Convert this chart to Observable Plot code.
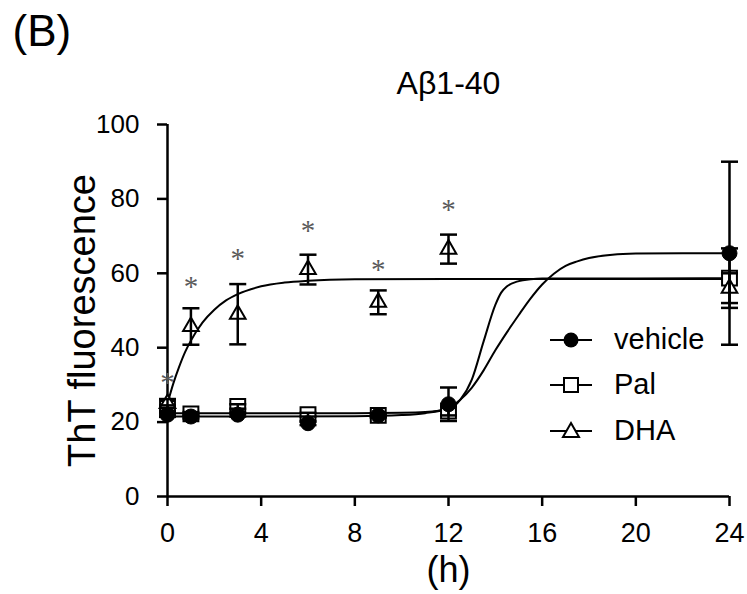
<!DOCTYPE html>
<html>
<head>
<meta charset="utf-8">
<script src="https://cdn.jsdelivr.net/npm/d3@7"></script>
<script src="https://cdn.jsdelivr.net/npm/@observablehq/plot@0.6"></script>
<style>
  html, body { margin: 0; padding: 0; background: #fff; }
  #wrap { position: relative; width: 747px; height: 594px; font-family: "Liberation Sans", Arial, sans-serif; }
  #legend { position: absolute; left: 0; top: 0; pointer-events: none; }
</style>
</head>
<body>
<div id="wrap"></div>
<script>
// ---------- data ----------
const hours = [0, 1, 3, 6, 9, 12, 24];

const vehicleMean = [22, 21.5, 22, 19.7, 21.8, 24.8, 65.4];
const vehicleErr  = [0.6, 0.5, 0.5, 0.5, 0.5, 4.5, 24.6];

const palMean = [23.7, 22.2, 24.2, 22, 21.8, 23, 58.7];
const palErr  = [0.8, 0.5, 0.6, 0.5, 0.5, 1.2, 8];

const dhaMean = [25, 45.7, 49, 61, 52.2, 66.5, 56];
const dhaErr  = [1.2, 4.9, 8.1, 4, 3.2, 3.9, 4];

// significance asterisks (DHA vs vehicle)
const starHours = [0, 1, 3, 6, 9, 12];
const starY     = [31, 56.9, 64.5, 71.9, 61.6, 77.5];

// fitted curves
const dhaFitT = [0, 0.25, 0.5, 0.75, 1, 1.5, 2, 2.5, 3, 4, 5, 6, 8, 12, 16, 20, 24];
const dhaFitV = [25, 30.4, 34.9, 38.8, 41.9, 46.8, 50.2, 52.7, 54.4, 56.5, 57.5, 58, 58.4, 58.5, 58.5, 58.5, 58.5];

const palFitT = [0, 4, 8, 10, 11, 12, 12.5, 13, 13.5, 14, 14.25, 14.5, 15, 15.5, 16, 20, 24];
const palFitV = [22.4, 22.4, 22.4, 22.5, 22.7, 23.5, 26, 31.5, 41.7, 51.5, 54.8, 56.5, 57.9, 58.4, 58.6, 58.6, 58.7];

const vehFitT = [0, 4, 8, 10, 11, 12, 12.5, 13, 13.5, 14, 14.5, 15, 15.5, 16, 16.5, 17, 17.5, 18, 19, 20, 22, 24];
const vehFitV = [21.5, 21.5, 21.6, 21.9, 22.4, 23.8, 26, 29.3, 33.9, 39.3, 44.2, 48.8, 53.2, 57, 59.9, 62, 63.2, 64.1, 65, 65.3, 65.4, 65.4];

const xTicks = [0, 4, 8, 12, 16, 20, 24];
const yTicks = [0, 20, 40, 60, 80, 100];

const seriesNames = ["vehicle", "Pal", "DHA"];
const panelLabel = "(B)";
const chartTitle = "Aβ1-40";
const yTitle = "ThT fluorescence";
const xTitle = "(h)";

// ---------- build tables ----------
const pts = (mean, err, s) => hours.map((t, i) => ({t, v: mean[i], lo: mean[i] - err[i], hi: mean[i] + err[i], s}));
const veh = pts(vehicleMean, vehicleErr, "vehicle");
const pal = pts(palMean, palErr, "Pal");
const dha = pts(dhaMean, dhaErr, "DHA");
const all = [...pal, ...veh, ...dha];
const fit = (T, V) => T.map((t, i) => ({t, v: V[i]}));
const stars = starHours.map((t, i) => ({t, v: starY[i]}));

const capSymbol = {
  draw(ctx, size) { const h = Math.sqrt(size / Math.PI); ctx.moveTo(-h, 0); ctx.lineTo(h, 0); }
};

const font = "'Liberation Sans', Arial, sans-serif";

const chart = Plot.plot({
  width: 747,
  height: 594,
  marginLeft: 167,
  marginRight: 18,
  marginTop: 124,
  marginBottom: 98,
  style: {fontFamily: font, fontSize: "26px", background: "white", color: "black", overflow: "visible"},
  x: {domain: [0, 24], label: null},
  y: {domain: [0, 100], label: null},
  marks: [
    Plot.axisX({ticks: xTicks, tickSize: 10, tickPadding: 16, strokeWidth: 2.5, fontSize: 27, label: null}),
    Plot.axisY({ticks: yTicks, tickSize: 10, tickPadding: 18, strokeWidth: 2.5, fontSize: 26, label: null}),
    Plot.ruleX([0], {strokeWidth: 2.5}),
    Plot.ruleY([0], {strokeWidth: 2.5}),
    // fitted curves
    Plot.line(fit(dhaFitT, dhaFitV), {x: "t", y: "v", curve: "monotone-x", strokeWidth: 2}),
    Plot.line(fit(palFitT, palFitV), {x: "t", y: "v", curve: "monotone-x", strokeWidth: 2}),
    Plot.line(fit(vehFitT, vehFitV), {x: "t", y: "v", curve: "monotone-x", strokeWidth: 2}),
    // markers
    Plot.dot(pal, {x: "t", y: "v", symbol: "square", r: 8.4, fill: "white", stroke: "black", strokeWidth: 2}),
    Plot.dot(veh, {x: "t", y: "v", symbol: "circle", r: 7.5, fill: "black", stroke: "black", strokeWidth: 1}),
    Plot.dot(dha, {x: "t", y: "v", symbol: "triangle", r: 5.8, fill: "white", stroke: "black", strokeWidth: 2}),
    // error bars
    Plot.ruleX(all, {x: "t", y1: "lo", y2: "hi", strokeWidth: 2.5}),
    Plot.dot(all, {x: "t", y: "hi", symbol: capSymbol, r: 8.5, fill: "none", stroke: "black", strokeWidth: 2.5}),
    Plot.dot(all, {x: "t", y: "lo", symbol: capSymbol, r: 8.5, fill: "none", stroke: "black", strokeWidth: 2.5}),
    // asterisks
    Plot.text(stars, {x: "t", y: "v", text: () => "*", fontSize: 29, fontFamily: "'Liberation Serif', 'Times New Roman', serif", fill: "#5a5a5a", dy: 2}),
    // titles
    Plot.text([panelLabel], {text: d => d, frameAnchor: "top-left", lineAnchor: "middle", textAnchor: "start", dx: -155, dy: -93, fontSize: 44}),
    Plot.text([chartTitle], {text: d => d, frameAnchor: "top", lineAnchor: "middle", textAnchor: "middle", dy: -41, fontSize: 32}),
    Plot.text([yTitle], {text: d => d, frameAnchor: "left", lineAnchor: "middle", textAnchor: "middle", dx: -85, dy: 10, rotate: -90, fontSize: 38}),
    Plot.text([xTitle], {text: d => d, frameAnchor: "bottom", lineAnchor: "middle", textAnchor: "middle", dy: 74, fontSize: 36})
  ]
});

const wrap = document.getElementById("wrap");
wrap.appendChild(chart);

// ---------- legend (inside plot area, lower right) ----------
const ns = "http://www.w3.org/2000/svg";
const leg = document.createElementNS(ns, "svg");
leg.setAttribute("id", "legend");
leg.setAttribute("width", 747);
leg.setAttribute("height", 594);
const rowY = [340, 385, 431];
const mk = (tag, attrs) => { const e = document.createElementNS(ns, tag); for (const k in attrs) e.setAttribute(k, attrs[k]); return e; };
seriesNames.forEach((name, i) => {
  const y = rowY[i];
  leg.appendChild(mk("line", {x1: 550, x2: 592, y1: y, y2: y, stroke: "black", "stroke-width": 2}));
  if (i === 0) leg.appendChild(mk("circle", {cx: 571, cy: y, r: 7.5, fill: "black"}));
  if (i === 1) leg.appendChild(mk("rect", {x: 564, y: y - 7, width: 14, height: 14, fill: "white", stroke: "black", "stroke-width": 2}));
  if (i === 2) leg.appendChild(mk("path", {d: `M571,${y - 8}L579,${y + 6}L563,${y + 6}Z`, fill: "white", stroke: "black", "stroke-width": 2}));
  const t = mk("text", {x: 614, y: y + 9, "font-size": 29, "font-family": font, fill: "black"});
  t.textContent = name;
  leg.appendChild(t);
});
wrap.appendChild(leg);
</script>
</body>
</html>
